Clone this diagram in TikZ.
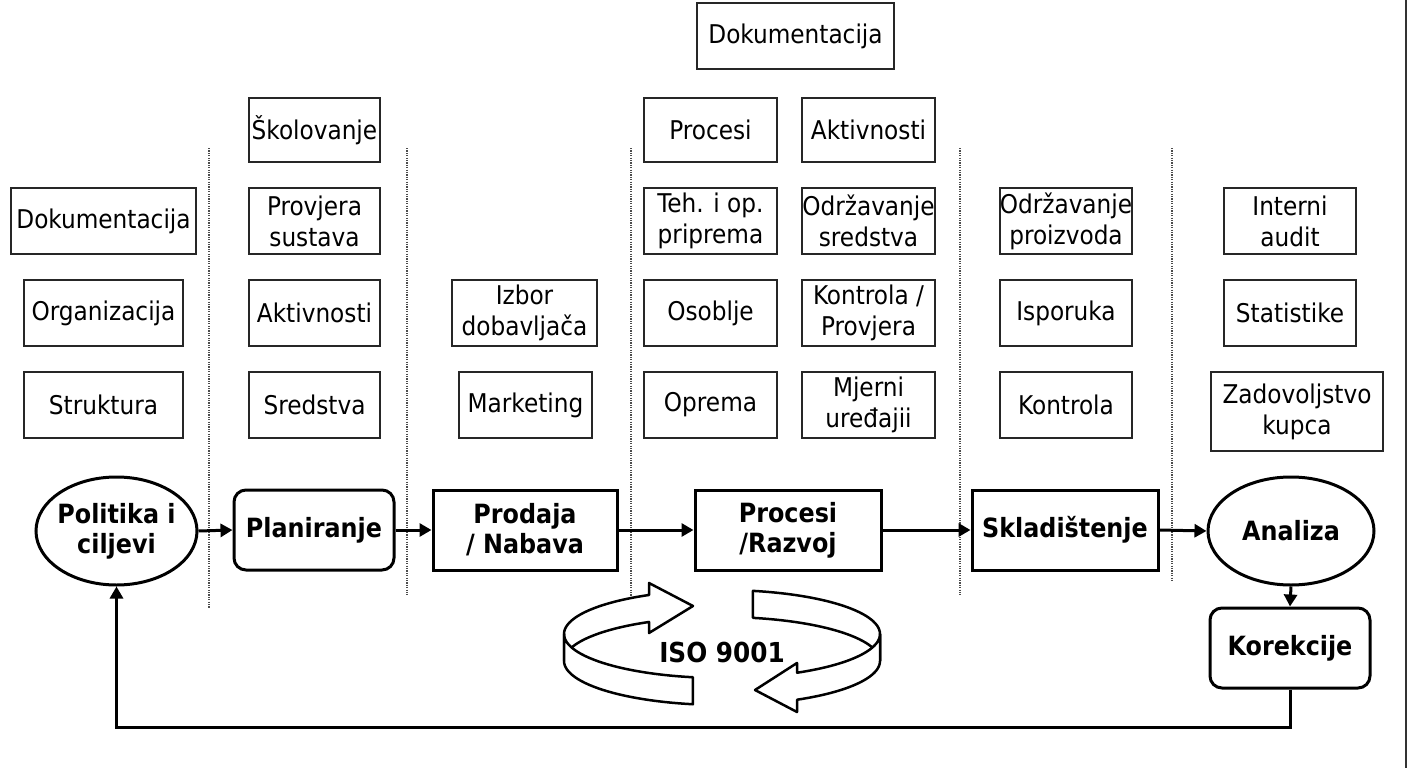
\documentclass[tikz,border=0pt]{standalone}
\usepackage{fontspec}
\setmainfont{DejaVu Sans Condensed}
\usetikzlibrary{arrows.meta,shapes.geometric}
\begin{document}
\begin{tikzpicture}[x=1pt,y=-1pt,
  txt/.style={font=\fontsize{25.8}{31}\selectfont, align=center},
  bx/.style={draw=black!85, line width=1.6pt, inner sep=0pt, txt, minimum height=66pt},
  main/.style={draw, line width=3pt, inner sep=0pt, font=\bfseries\fontsize{26.5}{30}\selectfont, align=center, minimum height=80pt},
  rbox/.style={main, rounded corners=12pt},
  ell/.style={ellipse, draw, line width=3pt, inner sep=0pt},
  btxt/.style={font=\bfseries\fontsize{26.5}{30}\selectfont, align=center, inner sep=0pt},
  arr/.style={line width=3pt, -{Triangle[length=12pt,width=13pt]}},
  sep/.style={gray!60!black, line width=1.2pt, dash pattern=on 1.2pt off 1.2pt},
  iso/.style={fill=white, draw, line width=2.5pt, line join=round}
]
\useasboundingbox (0,0) rectangle (1409,768);

% separators
\draw[sep] (209,148) -- (209,608);
\draw[sep] (407,148) -- (407,595);
\draw[sep] (631,148) -- (631,596);
\draw[sep] (960,148) -- (960,595);
\draw[sep] (1172,148) -- (1172,582);
\draw[black!80, line width=2pt] (1406,0) -- (1406,768);

% column 1
\node[bx, minimum width=185pt] (dok1) at (103.5,221) {Dokumentacija};
\node[bx, minimum width=159pt] (org) at (103.5,313) {Organizacija};
\node[bx, minimum width=159pt] (str) at (103.5,405) {Struktura};
% column 2
\node[bx, minimum width=131pt, minimum height=64pt] (skol) at (314.5,130) {Školovanje};
\node[bx, minimum width=131pt] (prov) at (314.5,221) {Provjera\\sustava};
\node[bx, minimum width=131pt] (akt1) at (314.5,313) {Aktivnosti};
\node[bx, minimum width=131pt] (sred) at (314.5,405) {Sredstva};
% column 3
\node[bx, minimum width=145pt] (izb) at (524.5,313) {Izbor\\dobavljača};
\node[bx, minimum width=133pt] (mark) at (525.5,405) {Marketing};
% column 4
\node[bx, minimum width=197pt] (dok2) at (795.5,36) {Dokumentacija};
\node[bx, minimum width=133pt, minimum height=64pt] (proc) at (710.5,130) {Procesi};
\node[bx, minimum width=133pt, minimum height=64pt] (akt2) at (868.5,130) {Aktivnosti};
\node[bx, minimum width=133pt] (teh) at (710.5,221) {Teh. i op.\\priprema};
\node[bx, minimum width=133pt] (odr1) at (868.5,221) {Održavanje\\sredstva};
\node[bx, minimum width=133pt] (osob) at (710.5,313) {Osoblje};
\node[bx, minimum width=133pt] (kpr) at (868.5,313) {Kontrola /\\Provjera};
\node[bx, minimum width=133pt] (opr) at (710.5,405) {Oprema};
\node[bx, minimum width=133pt] (mje) at (868.5,405) {Mjerni\\uređajii};
% column 5
\node[bx, minimum width=132pt] (odr2) at (1066,221) {Održavanje\\proizvoda};
\node[bx, minimum width=132pt] (isp) at (1066,313) {Isporuka};
\node[bx, minimum width=132pt] (kon) at (1066,405) {Kontrola};
% column 6
\node[bx, minimum width=132pt] (int) at (1290,221) {Interni\\audit};
\node[bx, minimum width=132pt] (stat) at (1290,313) {Statistike};
\node[bx, minimum width=172pt, minimum height=79pt] (zad) at (1297,411.5) {Zadovoljstvo\\kupca};

% main row
\node[ell, minimum width=161pt, minimum height=108pt] (pol) at (116.5,531) {};
\node[btxt] (polt) at (pol.center) {Politika i\\ciljevi};
\node[rbox, minimum width=160pt] (plan) at (314,530) {Planiranje};
\node[main, minimum width=184pt] (prod) at (525,530) {Prodaja\\/ Nabava};
\node[main, minimum width=186pt] (procr) at (788,530) {Procesi\\/Razvoj};
\node[main, minimum width=186pt] (skl) at (1065,530) {Skladištenje};
\node[ell, minimum width=166pt, minimum height=108pt] (ana) at (1291,531) {};
\node[btxt] (anat) at (ana.center) {Analiza};
\node[rbox, minimum width=160pt] (kor) at (1290,648) {Korekcije};

\draw[arr] (pol.east) -- (plan.west);
\draw[arr] (plan.east) -- (prod.west);
\draw[arr] (prod.east) -- (procr.west);
\draw[arr] (procr.east) -- (skl.west);
\draw[arr] (skl.east) -- (ana.west);
\draw[arr] (ana.south) -- (kor.north);
\coordinate (fbl) at (116.5,727);
\draw[arr] (kor.south) |- (fbl) -- (pol.south);

% ISO 9001 cycle symbol
% back parts
\filldraw[iso] plot[domain=180:117.5, samples=30] ({722+158*cos(\x)},{634-44*sin(\x)})
  -- (649,583) -- (693,606) -- (649,633)
  -- plot[domain=117.5:180, samples=30] ({722+158*cos(\x)},{661-44*sin(\x)}) -- cycle;
\filldraw[iso] plot[domain=78.7:0, samples=30] ({722+158*cos(\x)},{634-44*sin(\x)})
  -- plot[domain=0:78.7, samples=30] ({722+158*cos(\x)},{661-44*sin(\x)}) -- cycle;
% front parts
\filldraw[iso] plot[domain=180:259.4, samples=30] ({722+158*cos(\x)},{634-44*sin(\x)})
  -- plot[domain=259.4:180, samples=30] ({722+158*cos(\x)},{661-44*sin(\x)}) -- cycle;
\filldraw[iso] plot[domain=360:298.4, samples=30] ({722+158*cos(\x)},{634-44*sin(\x)})
  -- (797,663) -- (755,690) -- (797,712)
  -- plot[domain=298.4:360, samples=30] ({722+158*cos(\x)},{661-44*sin(\x)}) -- cycle;
\node[btxt, font=\bfseries\fontsize{27.5}{31}\selectfont] (iso) at (722,652) {ISO 9001};
\end{tikzpicture}
\end{document}
